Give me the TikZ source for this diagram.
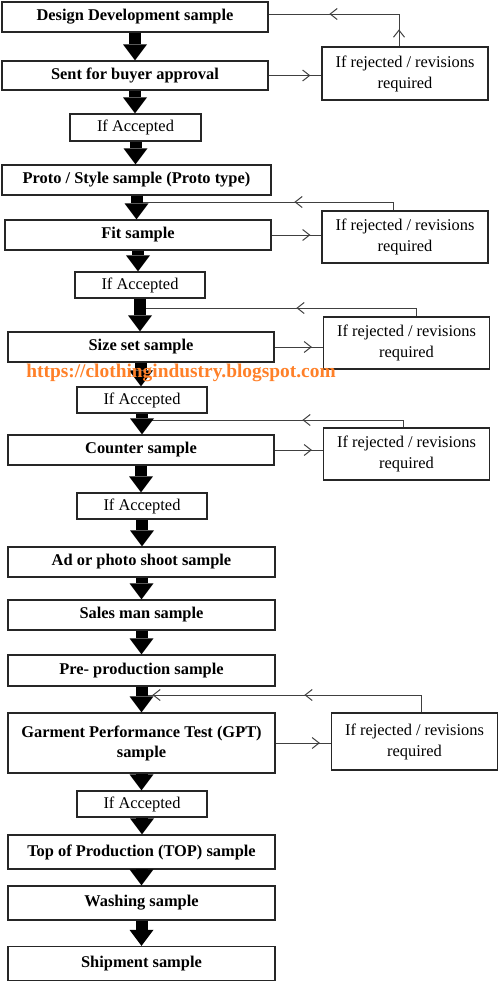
\documentclass[tikz,border=0pt]{standalone}
\usepackage{fontspec}
\setmainfont{Liberation Serif}
\usetikzlibrary{arrows.meta,decorations.markings}
\definecolor{wmark}{RGB}{255,128,40}
\tikzset{sbox/.style={draw=black!85,line width=1.2pt,inner sep=0pt,minimum width=266pt,minimum height=30pt,align=center,font=\bfseries\fontsize{16.4}{20}\selectfont},
	 abox/.style={draw=black!85,line width=1.2pt,inner sep=0pt,minimum width=130pt,minimum height=26pt,font=\fontsize{16.4}{20}\selectfont},
	 rbox/.style={draw=black!85,line width=1.2pt,inner sep=0pt,minimum width=166pt,minimum height=52pt,align=center,font=\fontsize{16.4}{21}\selectfont},
	 barrow/.style={line width=12pt,-{Triangle[width=24pt,length=16pt,line width=0pt]}},
	 fb/.style={draw=black!75,line width=1pt},
	 headat/.style={decoration={markings,mark=at position #1 with {\arrow{>}}},postaction={decorate}},
	 >={Straight Barb[length=7pt,width=11pt]}
	 }

\begin{document}
\begin{tikzpicture}[x=1pt,y=-1pt]% sample approval flow
        \useasboundingbox (0,0) rectangle (500,983);
        % main column
        \node[sbox] (dd) at (135,17) {Design Development sample};
        \node[sbox,minimum height=29pt] (sba) at (135,75.5) {Sent for buyer approval};
        \node[abox,minimum width=131pt,minimum height=27pt] (acc1) at (135.5,127.5) {If Accepted};
        \node[sbox,minimum width=269pt] (proto) at (136.5,180) {Proto / Style sample (Proto type)};
        \node[sbox] (fit) at (138,235) {Fit sample};
        \node[abox] (acc2) at (140,285) {If Accepted};
        \node[sbox] (size) at (141,347) {Size set sample};
        \node[abox] (acc3) at (142,400) {If Accepted};
        \node[sbox] (counter) at (141,450) {Counter sample};
        \node[abox] (acc4) at (142,506) {If Accepted};
        \node[sbox,minimum width=267pt] (ad) at (141.5,562) {Ad or photo shoot sample};
        \node[sbox,minimum width=267pt] (sales) at (141.5,615) {Sales man sample};
        \node[sbox,minimum width=267pt,minimum height=31pt] (pre) at (141.5,670.5) {Pre- production sample};
        \node[sbox,minimum width=267pt,minimum height=60pt] (gpt) at (141.5,743) {Garment Performance Test (GPT)\\sample};
        \node[abox] (acc5) at (142,804) {If Accepted};
        \node[sbox,minimum width=267pt,minimum height=34pt] (top) at (141.5,852) {Top of Production (TOP) sample};
        \node[sbox,minimum width=267pt,minimum height=34pt] (wash) at (141.5,903) {Washing sample};
        \node[sbox,minimum width=267pt,minimum height=34pt] (ship) at (141.5,963.5) {Shipment sample};
        % rejection boxes
        \node[rbox,minimum height=53pt] (rej1) at (405,73.5) {If rejected / revisions\\required};
        \node[rbox] (rej2) at (405,237) {If rejected / revisions\\required};
        \node[rbox] (rej3) at (406.5,343) {If rejected / revisions\\required};
        \node[rbox] (rej4) at (406.5,454) {If rejected / revisions\\required};
        \node[rbox,minimum height=57pt] (rej5) at (414.5,741.5) {If rejected / revisions\\required};
        \coordinate (j2) at (137,202);
        \coordinate (j3) at (140,308);
        \coordinate (j4) at (142,420);
        \coordinate (j5) at (141.5,695);
        % out to rejection
        \draw[fb,headat=-11pt] (sba.east) -- (sba.east -| rej1.west);
        \draw[fb,headat=-11pt] (fit.east) -- (fit.east -| rej2.west);
        \draw[fb,headat=-11pt] (size.east) -- (size.east -| rej3.west);
        \draw[fb,headat=-11pt] (counter.east) -- (counter.east -| rej4.west);
        \draw[fb,headat=-11pt] (gpt.east) -- (gpt.east -| rej5.west);
        % back again
        \draw[fb,decoration={markings,mark=at position 17pt with {\arrow{>}},mark=at position 102pt with {\arrow{>}}},postaction={decorate}]
            ([xshift=-6pt]rej1.north) |- ([yshift=3pt]dd.east);
        \draw[fb,headat=107pt] ([xshift=-12pt]rej2.north) |- (j2);
        \draw[fb,headat=128pt] ([xshift=9.5pt]rej3.north) |- (j3);
        \draw[fb,headat=108pt] ([xshift=-3.5pt]rej4.north) |- (j4);
        \draw[fb,decoration={markings,mark=at position 134pt with {\arrow{>}},mark=at position 286pt with {\arrow{>}}},postaction={decorate}]
            ([xshift=6.5pt]rej5.north) |- (j5);
        % block arrows
        \foreach \a/\b in {dd/sba,sba/acc1,acc1/proto,proto/fit,fit/acc2,acc2/size,size/acc3,acc3/counter,counter/acc4,
                           acc4/ad,ad/sales,sales/pre,pre/gpt,gpt/acc5,acc5/top,top/wash,wash/ship}
            \draw[barrow] (\a.south) -- (\a.south |- \b.north);
        \node[text=wmark,font=\bfseries\fontsize{19.4}{22}\selectfont,inner sep=0pt] (url) at (181,373) {https://clothingindustry.blogspot.com};
     \end{tikzpicture}
\end{document}
